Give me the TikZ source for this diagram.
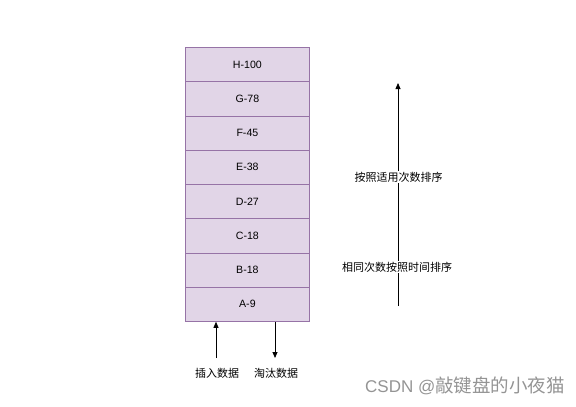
\documentclass[tikz,border=0pt]{standalone}
\usepackage{fontspec}
\setmainfont{Liberation Sans}
\newfontfamily\cjk{Noto Sans CJK SC}
\usetikzlibrary{arrows.meta}
\definecolor{cellfill}{HTML}{E1D5E7}
\definecolor{celldraw}{HTML}{9673A6}
\tikzset{
  cell/.style={draw=celldraw, fill=cellfill, line width=0.8pt, minimum width=124pt, minimum height=34.25pt, inner sep=0pt, font=\fontsize{10.6}{12}\selectfont, anchor=north west},
  arr/.style={line width=0.8pt, -{Triangle[length=6pt,width=5pt]}},
  lbl/.style={font=\cjk\fontsize{11}{13}\selectfont, inner sep=1pt},
  bglbl/.style={lbl, fill=white}
}
\begin{document}
\begin{tikzpicture}[x=1pt,y=-1pt]
\useasboundingbox (0,0) rectangle (576,407);
\foreach \t [count=\i from 0] in {H-100,G-78,F-45,E-38,D-27,C-18,B-18,A-9}{
  \node[cell] (c\i) at (185,{47+34.25*\i}) {\t};
}
\coordinate (inS) at (216,358);
\coordinate (outE) at (275,358);
\draw[arr] (inS) -- (inS |- c7.south);
\draw[arr] (outE |- c7.south) -- (outE);
\node[lbl] (ins) at (217,373) {插入数据};
\node[lbl] (del) at (276,373) {淘汰数据};
\coordinate (vs) at (398,306);
\coordinate (ve) at (398,83);
\draw[arr] (vs) -- (ve);
\node[bglbl] (l1) at (398.5,177) {按照适用次数排序};
\node[bglbl] (l2) at (397,267) {相同次数按照时间排序};
\node[font=\fontsize{17}{20}\selectfont, text=black!42, anchor=east, inner sep=0pt] (wm) at (565,386) {CSDN @{\cjk\fontsize{18.5}{20}\selectfont 敲键盘的小夜猫}};
\end{tikzpicture}
\end{document}
